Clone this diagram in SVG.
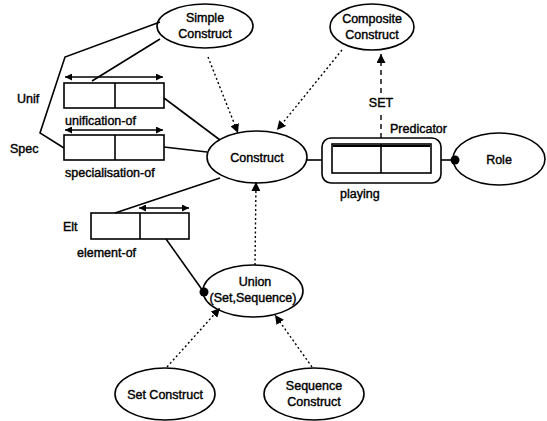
<svg xmlns="http://www.w3.org/2000/svg" width="547" height="421" viewBox="0 0 547 421">
<style>
.n{fill:#fff;stroke:#000;stroke-width:1.6}
.t{font-family:"Liberation Sans",Arial,sans-serif;font-size:12.5px;fill:#000;stroke:#000;stroke-width:0.4}
.c{text-anchor:middle}
.s{fill:none;stroke:#000;stroke-width:1.6}
.d{fill:none;stroke:#000;stroke-width:1.4;stroke-dasharray:2,2.5}
.dash{fill:none;stroke:#000;stroke-width:1.4;stroke-dasharray:5,4}
.a{fill:none;stroke:#000;stroke-width:1.3}
</style>
<defs>
<marker id="ah" viewBox="0 0 10 10" refX="10" refY="5" markerWidth="9" markerHeight="9" markerUnits="userSpaceOnUse" orient="auto">
<path d="M0,0 L10,5 L0,10 z" fill="#000"/>
</marker>
<marker id="sh" viewBox="0 0 10 10" refX="10" refY="5" markerWidth="8" markerHeight="7" markerUnits="userSpaceOnUse" orient="auto-start-reverse">
<path d="M0,0 L10,5 L0,10 z" fill="#000"/>
</marker>
</defs>

<g id="simple-construct">
<ellipse class="n" cx="205" cy="26" rx="48" ry="22"/>
<text class="t c" x="205" y="22">Simple</text>
<text class="t c" x="205" y="38">Construct</text>
</g>

<g id="composite-construct">
<ellipse class="n" cx="372" cy="27" rx="42" ry="23"/>
<text class="t c" x="372" y="23">Composite</text>
<text class="t c" x="372" y="39">Construct</text>
</g>

<g id="construct">
<ellipse class="n" cx="257" cy="157" rx="50" ry="26"/>
<text class="t c" x="257" y="162">Construct</text>
</g>

<g id="role">
<ellipse class="n" cx="499" cy="159" rx="46" ry="26"/>
<text class="t c" x="499" y="164">Role</text>
</g>

<g id="union">
<ellipse class="n" cx="253" cy="291" rx="50" ry="26"/>
<text class="t c" x="255" y="286">Union</text>
<text class="t c" x="253" y="302">(Set,Sequence)</text>
</g>

<g id="set-construct">
<ellipse class="n" cx="165" cy="394" rx="50" ry="26"/>
<text class="t c" x="165" y="399">Set Construct</text>
</g>

<g id="sequence-construct">
<ellipse class="n" cx="314" cy="394" rx="50" ry="26"/>
<text class="t c" x="314" y="390">Sequence</text>
<text class="t c" x="314" y="406">Construct</text>
</g>

<g id="unif">
<rect class="n" x="64" y="83" width="100" height="25"/>
<line class="s" x1="115" y1="83" x2="115" y2="108"/>
<line class="a" x1="65" y1="77" x2="163" y2="77" marker-start="url(#sh)" marker-end="url(#sh)"/>
<text class="t" x="17" y="103">Unif</text>
<text class="t" x="65" y="125">unification-of</text>
</g>

<g id="spec">
<rect class="n" x="64" y="135" width="100" height="25"/>
<line class="s" x1="115" y1="135" x2="115" y2="160"/>
<line class="a" x1="65" y1="130" x2="163" y2="130" marker-start="url(#sh)" marker-end="url(#sh)"/>
<text class="t" x="10" y="153">Spec</text>
<text class="t" x="65" y="177">specialisation-of</text>
</g>

<g id="elt">
<rect class="n" x="91" y="213" width="98" height="26"/>
<line class="s" x1="140" y1="213" x2="140" y2="239"/>
<line class="a" x1="139" y1="208" x2="189" y2="208" marker-start="url(#sh)" marker-end="url(#sh)"/>
<text class="t" x="63" y="231">Elt</text>
<text class="t" x="77" y="257">element-of</text>
</g>

<g id="predicator">
<rect class="n" x="322" y="138" width="119" height="45" rx="9"/>
<rect class="n" x="332" y="144" width="99" height="29"/>
<line class="s" x1="381" y1="144" x2="381" y2="173"/>
<line x1="333" y1="146" x2="430" y2="146" stroke="#000" stroke-width="2"/>
<text class="t" x="390" y="133">Predicator</text>
<text class="t" x="340" y="198">playing</text>
</g>

<g id="connectors">
<polyline class="s" points="160,22 65,57 40,133 64,148"/>
<line class="s" x1="160" y1="39" x2="92" y2="81"/>
<line class="s" x1="164" y1="98" x2="220" y2="140"/>
<line class="s" x1="164" y1="147" x2="207" y2="152"/>
<line class="s" x1="220" y1="178" x2="115" y2="213"/>
<line class="s" x1="166" y1="239" x2="203" y2="291"/>
<circle cx="204" cy="292" r="4.5" fill="#000"/>
<line class="s" x1="307" y1="160" x2="322" y2="160"/>
<line class="s" x1="441" y1="160" x2="454" y2="160"/>
<circle cx="455" cy="160" r="4.5" fill="#000"/>
<line class="d" x1="208" y1="57" x2="238" y2="133" marker-end="url(#ah)"/>
<line class="d" x1="342" y1="50" x2="277" y2="130" marker-end="url(#ah)"/>
<line class="d" x1="255" y1="265" x2="256" y2="182" marker-end="url(#ah)"/>
<line class="d" x1="167" y1="367" x2="220" y2="308" marker-end="url(#ah)"/>
<line class="d" x1="312" y1="367" x2="275" y2="315" marker-end="url(#ah)"/>
<line class="dash" x1="381" y1="138" x2="381" y2="112"/>
<line class="dash" x1="381" y1="93" x2="381" y2="54" marker-end="url(#ah)"/>
<text class="t c" x="381" y="107">SET</text>
</g>
</svg>
